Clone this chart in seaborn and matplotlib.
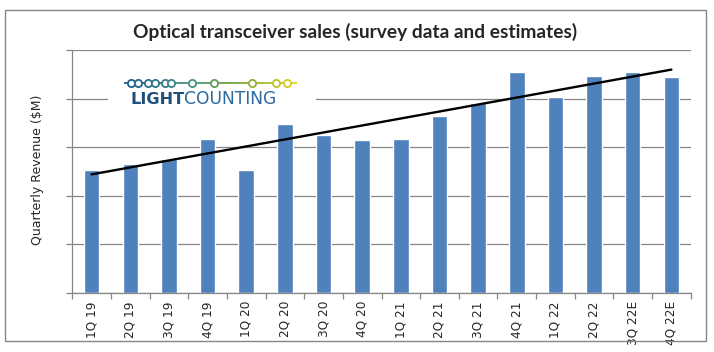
import numpy as np
import pandas as pd
import seaborn as sns
import matplotlib.pyplot as plt
from matplotlib.collections import LineCollection
from matplotlib.colors import LinearSegmentedColormap
from matplotlib.lines import Line2D
from matplotlib.patches import Rectangle

quarters = ['1Q 19', '2Q 19', '3Q 19', '4Q 19', '1Q 20', '2Q 20', '3Q 20', '4Q 20',
			'1Q 21', '2Q 21', '3Q 21', '4Q 21', '1Q 22', '2Q 22', '3Q 22E', '4Q 22E']
revenue = [1265, 1325, 1375, 1585, 1265, 1740, 1630, 1575,
		   1585, 1825, 1960, 2280, 2020, 2235, 2280, 2225]
grid_ticks = [0, 500, 1000, 1500, 2000, 2500]

title = 'Optical transceiver sales (survey data and estimates)'
ylabel = 'Quarterly Revenue ($M)'

W, H = 714, 352
GRAY = '#868686'

def fx(x):
	return x / W

def fy(y):
	return 1 - y / H

sns.set_style('white')
plt.rcParams['font.family'] = ['DejaVu Sans']

fig = plt.figure(figsize=(W / 100, H / 100), dpi=100)
ax = fig.add_axes([fx(72.3), fy(292.7), (690.7 - 72.3) / W, (292.7 - 50.3) / H])

df = pd.DataFrame({'quarter': quarters, 'revenue': revenue})
sns.barplot(data=df, x='quarter', y='revenue', color='#4f81bd', saturation=1,
			width=0.4, ax=ax, zorder=2)

# linear trendline over the quarters
sns.regplot(x=np.arange(len(revenue)), y=np.array(revenue), scatter=False, ci=None,
			color='black', line_kws={'lw': 1.7, 'zorder': 3}, ax=ax)

ax.set_xlim(-0.5, len(quarters) - 0.5)
ax.set_ylim(grid_ticks[0], grid_ticks[-1])
ax.set_yticks(grid_ticks)
ax.set_yticklabels([])
ax.yaxis.grid(True, color=GRAY, lw=0.9)
ax.set_axisbelow(True)
ax.tick_params(axis='y', left=True, length=4, width=0.9, color=GRAY)

ax.set_xticks(range(len(quarters)))
ax.set_xticklabels(quarters, rotation=90, fontsize=8.7, family='DejaVu Sans')
ax.set_xticks(np.arange(-0.5, len(quarters), 1), minor=True)
ax.tick_params(axis='x', which='major', length=0, pad=6)
ax.tick_params(axis='x', which='minor', bottom=True, length=4, width=0.9, color=GRAY)
ax.set_xlabel('')
ax.set_ylabel('')

for s in ['top', 'right']:
	ax.spines[s].set_visible(False)
for s in ['left', 'bottom']:
	ax.spines[s].set_color(GRAY)
	ax.spines[s].set_linewidth(0.9)

fig.text(fx(38), fy(170), ylabel, rotation=90, fontsize=9, ha='center', va='center')
fig.text(fx(355), fy(32), title, family='Lato', weight='bold', fontsize=13.8,
		 ha='center', va='center')

# chart border
fig.add_artist(Rectangle((fx(4.5), fy(341.3)), (705.7 - 4.5) / W, (341.3 - 9.5) / H,
						 transform=fig.transFigure, fill=False, edgecolor=GRAY, lw=1))

# logo
fig.add_artist(Rectangle((fx(108), fy(110)), (316 - 108) / W, (110 - 74) / H,
						 transform=fig.transFigure, facecolor='white', edgecolor='none', zorder=1))
cmap = LinearSegmentedColormap.from_list('lc', ['#1b5a8e', '#3f8f86', '#7aa63c', '#e2d420'])
xs = np.linspace(124, 297, 80)
segs = [[(fx(xs[i]), fy(83.3)), (fx(xs[i + 1]), fy(83.3))] for i in range(len(xs) - 1)]
lc = LineCollection(segs, colors=cmap(np.linspace(0, 1, len(segs))), lw=1.3,
					transform=fig.transFigure, zorder=2)
fig.add_artist(lc)
for cx in [131, 137.5, 148, 154.5, 164.5, 171, 191.5, 214, 251.5, 276, 287]:
	c = cmap((cx - 124) / (297 - 124))
	fig.add_artist(Line2D([fx(cx)], [fy(83.3)], marker='o', ms=5.2, mfc='white', mec=c,
						  mew=1.3, transform=fig.transFigure, zorder=3))
t1 = fig.text(fx(130), fy(99.5), 'LIGHT', weight='bold', fontsize=11.6,
			  color='#1f4e79', ha='left', va='center')
fig.canvas.draw()
bb = t1.get_window_extent(fig.canvas.get_renderer())
fig.text(bb.x1 / W, fy(99.5), 'COUNTING', fontsize=12.3,
		 color='#2b6a9e', ha='left', va='center')

fig.savefig('out.png', dpi=100)
